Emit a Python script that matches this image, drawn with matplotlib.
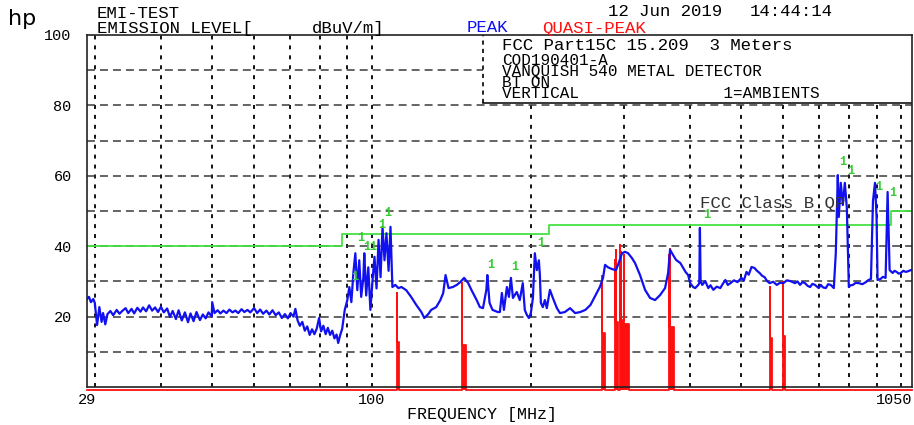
import matplotlib
matplotlib.use("Agg")
import matplotlib.pyplot as plt

W, H = 914, 425
MONO = "Liberation Mono"

# peak detector sweep, MHz / dBuV/m
peak_freq = [
    29.0, 29.25, 29.5, 29.8, 30.0, 30.3, 30.6, 30.9, 31.1, 31.4, 31.7,
    32.1, 32.5, 33.0, 33.4, 33.8, 34.3, 34.7, 35.2, 35.6, 36.1, 36.6, 37.0,
    37.5, 38.0, 38.5, 39.0, 39.5, 40.0, 40.5, 41.1, 41.6, 42.1, 42.7, 43.2,
    43.8, 44.4, 45.0, 45.5, 46.1, 46.7, 47.4, 48.0, 48.6, 49.2, 49.9, 50.0,
    50.5, 51.2, 51.8, 52.5, 53.2, 53.9, 54.6, 55.3, 56.0, 56.8, 57.5, 58.3,
    59.0,
    60.0, 60.8, 61.6, 62.4, 63.3, 64.1, 65.0, 65.9, 66.8, 67.7, 68.6, 69.5,
    70.3, 71.2, 71.8, 72.5, 73.2, 74.0, 74.8, 75.6, 76.4, 77.2, 78.0, 78.8,
    79.6, 80.3, 81.1, 81.9, 82.7, 83.5, 84.3, 85.1, 85.9, 86.5, 87.2, 88.0,
    89.0, 90.0, 90.8, 91.6, 92.4, 93.2, 94.0, 94.8, 95.6, 96.5, 96.9, 97.7,
    98.6, 99.5, 100.4, 101.3, 102.2, 103.1, 104.0, 104.9, 105.8, 106.7, 107.7,
    108.6, 109.5, 110.9, 112.4, 113.9,
    116.3, 118.8, 121.5, 124.2, 125.8, 128.0, 129.6, 132.5, 134.9, 136.6, 138.0,
    139.8, 142.4, 144.9, 147.1, 149.6, 152.3, 154.4, 158.0, 160.2, 162.4, 164.8,
    165.5, 167.1, 169.3, 173.2, 174.8, 176.3, 177.9, 180.2, 181.8, 183.4, 185.0,
    188.1, 190.6, 193.1, 194.8, 196.5, 198.3, 200.0, 201.8, 203.5, 205.3, 207.1,
    208.0, 208.9, 210.7, 212.6, 214.4, 217.3, 220.1, 224.0, 227.0, 232.0, 237.2,
    242.5, 248.0, 253.5, 259.2, 265.0,
    270.2, 273.8, 276.2, 279.8, 284.7, 289.7, 293.5, 297.4, 301.3, 305.3, 310.6,
    314.7, 321.6, 328.7, 335.9, 343.3, 350.9, 358.6, 363.4, 366.5, 371.3, 376.2,
    383.3, 392.0, 396.5, 400.0, 405.2, 408.8, 414.3, 416.2, 417.3, 418.6, 421.6,
    427.1, 432.8, 437.0, 442.4, 449.0, 456.0, 461.0, 466.2, 471.0, 476.6, 484.0,
    491.4, 500.0, 505.0, 511.1, 516.0, 522.4, 529.3, 535.0, 541.0, 547.0, 553.0,
    559.0, 565.2, 574.0, 583.2, 591.0, 600.0, 609.0, 618.6,
    631.2, 638.0, 645.1, 652.0, 659.3, 666.0, 673.8, 681.0, 688.6, 700.0, 706.0,
    713.0, 721.6, 729.0, 737.4, 747.2, 753.7, 760.3, 763.6, 770.3, 777.1, 783.9,
    790.8, 797.7, 804.0, 811.7, 822.0, 833.3, 846.0, 859.1, 869.0, 878.3, 886.0,
    893.8, 900.0, 903.9, 915.8, 925.0, 936.1, 944.3, 952.6, 965.2, 973.0, 982.2,
    991.0, 1000.0, 1011.0, 1022.0, 1033.0, 1044.0, 1050.0,
]
peak_level = [
    25.0, 25.6, 24.1, 25.0, 23.9, 17.6, 22.7, 18.5, 21.0, 17.8, 20.7,
    21.6, 20.4, 21.9, 20.8, 21.6, 22.4, 21.0, 22.2, 20.9, 22.5, 21.4, 22.6,
    21.5, 23.2, 21.7, 22.6, 21.3, 22.8, 21.2, 22.3, 19.9, 21.6, 19.3, 21.8,
    18.9, 21.2, 18.4, 20.9, 18.7, 21.3, 19.0, 20.6, 19.5, 21.2, 20.0, 24.1,
    21.0, 21.8, 20.9, 21.7, 21.0, 22.0, 21.2, 21.7, 21.0, 22.1, 21.3, 21.9,
    21.2,
    22.4, 21.0, 22.0, 20.8, 21.7, 20.6, 21.8, 20.4, 21.2, 19.6, 20.7, 19.5,
    21.0, 20.0, 22.2, 18.9, 17.4, 18.5, 16.0, 17.2, 14.8, 16.4, 15.0, 16.6,
    19.6, 15.8, 17.4, 15.0, 16.8, 14.8, 16.0, 13.8, 14.9, 12.5, 14.6, 16.5,
    21.9, 24.7, 28.4, 24.1, 32.4, 38.0, 27.5, 36.0, 25.6, 31.0, 38.0, 26.0,
    34.0, 21.9, 30.0, 37.0, 28.0, 41.8, 31.2, 45.5, 36.0, 43.7, 33.0,
    45.5, 28.4, 29.0, 28.1, 28.4,
    27.5, 25.6, 23.3, 21.3, 19.6, 20.7, 21.9, 22.7, 24.7, 26.7, 31.8,
    28.1, 28.4, 29.0, 29.8, 31.0, 29.5, 27.6, 24.7, 22.7, 22.4, 27.6,
    31.8, 23.9, 21.9, 21.3, 21.3, 26.7, 21.9, 28.4, 25.6, 31.0, 25.3,
    27.0, 24.7, 29.5, 21.9, 20.5, 19.6, 21.0, 25.3, 38.0, 33.2, 36.0,
    31.8, 23.9, 22.7, 24.7, 22.4, 27.6, 25.3, 22.4, 21.0, 21.3, 22.4,
    21.0, 21.3, 21.9, 23.3, 26.1,
    28.5, 31.0, 34.7, 34.0, 33.5, 33.2, 35.5, 38.0, 38.4, 38.0, 36.6,
    35.2, 31.8, 27.6, 25.3, 24.7, 26.1, 28.1, 32.4, 39.0, 37.5, 36.1,
    35.2, 32.7, 31.8, 29.5, 28.4, 28.1, 29.0, 29.5, 45.2, 30.0, 29.0,
    30.1, 28.1, 28.9, 27.6, 28.5, 28.1, 29.3, 30.4, 29.0, 29.5, 30.3,
    29.8, 31.0, 30.2, 32.7, 31.9, 34.1, 33.8, 33.0, 32.4, 31.6, 31.2,
    30.1, 29.5, 29.9, 29.0, 29.6, 29.5, 30.3, 30.1,
    29.5, 30.0, 29.0, 29.8, 29.5, 28.8, 28.4, 29.3, 29.0, 28.1, 29.0,
    28.3, 28.1, 29.2, 29.0, 28.1, 38.0, 60.2, 48.3, 58.0, 51.7, 58.0,
    50.9, 28.4, 28.9, 29.0, 29.6, 29.5, 29.2, 29.8, 30.4, 30.7, 52.8,
    58.0, 48.3, 30.4, 30.7, 31.3, 31.0, 55.4, 33.2, 32.4, 33.0, 32.7,
    32.2, 32.4, 33.0, 32.7, 32.9, 33.2, 33.2,
]

# quasi-peak readings, traced from the floor (just under 0 dB)
qp_floor = -0.9
qp_freq = [
    29.0, 111.9, 111.9, 111.9, 112.9, 112.9,
    148.4, 148.4, 148.4, 151.0, 151.0,
    272.6, 272.6, 272.6, 276.2, 276.2,
    288.4, 288.4, 288.4, 290.3, 290.3, 290.3, 292.2, 292.2,
    294.8, 294.8, 294.8, 296.1, 296.1, 296.1, 299.9, 299.9, 299.9, 306.6, 306.6,
    364.9, 364.9, 364.9, 366.5, 366.5, 366.5, 373.0, 373.0,
    565.2, 565.2, 565.2, 570.1, 570.1,
    600.0, 600.0, 600.0, 605.2, 605.2, 1050.0,
]
qp_level = [
    qp_floor, qp_floor, 26.7, 12.8, 12.8, qp_floor,
    qp_floor, 29.5, 12.0, 12.0, qp_floor,
    qp_floor, 31.5, 15.3, 15.3, qp_floor,
    qp_floor, 36.0, 18.5, 18.5, 39.0, 18.5, 18.5, qp_floor,
    qp_floor, 40.3, 18.5, 18.5, 38.4, 19.0, 19.0, 37.5, 18.0, 18.0, qp_floor,
    qp_floor, 37.5, 17.0, 17.0, 39.2, 17.0, 17.0, qp_floor,
    qp_floor, 28.4, 13.9, 13.9, qp_floor,
    qp_floor, 29.8, 14.5, 14.5, qp_floor, qp_floor,
]

# FCC 15.209 class B quasi-peak limit
limit_freq = [29, 88, 88, 216, 216, 960, 960, 1050]
limit_level = [40, 40, 43.5, 43.5, 46, 46, 50, 50]

# ambient signal flags ("1")
amb_freq = [107.5, 104.3, 95.2, 99.4, 93.1, 167.6, 186.8, 208.3,
            429.0, 775.5, 803.0, 907.0, 964.0]
amb_level = [49.4, 46.0, 42.3, 39.7, 31.2, 34.7, 34.1, 40.9,
             48.8, 63.9, 61.4, 56.8, 55.1]
amb_flag = ["1", "1", "1", "11", "1", "1", "1", "1",
            "1", "1", "1", "1", "1"]

grid_freq = [30, 40, 50, 60, 70, 80, 90, 100, 200, 300, 400, 500, 600, 700,
             800, 900, 1000]
grid_level = [10, 20, 30, 40, 50, 60, 70, 80, 90]

BLUE = "#1010f0"
RED = "#ff1010"
GREEN = "#44e044"

fig = plt.figure(figsize=(W / 100, H / 100), dpi=100)
ax = fig.add_axes([87 / W, 1 - 387 / H, 825 / W, 352 / H])
ax.set_xscale("log")
ax.set_xlim(29, 1050)
ax.set_ylim(0, 100)

for f in grid_freq:
    ax.axvline(f, color="black", lw=1.3, linestyle=(0, (2.2, 3.3)), zorder=1)
for lv in grid_level:
    ax.axhline(lv, color="#3a3a3a", lw=1.1, linestyle=(0, (5.2, 3.3)), zorder=1)

ax.plot(limit_freq, limit_level, color=GREEN, lw=1.3, zorder=2)
ax.fill_between(qp_freq, qp_level, qp_floor, color=RED, lw=0, zorder=3, clip_on=False)
ax.plot(qp_freq, qp_level, color=RED, lw=1.3, zorder=3, clip_on=False)
ax.plot(peak_freq, peak_level, color=BLUE, lw=1.6, zorder=4)

for f, lv, s in zip(amb_freq, amb_level, amb_flag):
    ax.text(f, lv, s, color="#33cc33", fontsize=8.5, family=MONO,
            fontweight="bold", ha="center", va="center", zorder=5)

ax.text(0.743, 0.522, "FCC Class B QP", transform=ax.transAxes, color="#333333",
        fontsize=12.5, family=MONO, va="center", zorder=5)

# header box for the test record
ax.fill_between([0.48, 1.0], 0.806, 1.0, transform=ax.transAxes, color="white",
                lw=0, zorder=5)
ax.plot([0.48, 0.48], [0.806, 1.0], transform=ax.transAxes, color="black",
        lw=1.2, linestyle=(0, (2.5, 2.5)), zorder=6)
ax.plot([0.48, 1.0], [0.806, 0.806], transform=ax.transAxes, color="black",
        lw=1.1, zorder=6)

for side in ["left", "right", "top", "bottom"]:
    ax.spines[side].set_color("#222222")
    ax.spines[side].set_linewidth(1.2)
    ax.spines[side].set_zorder(7)

ax.set_yticks([20, 40, 60, 80, 100])
ax.set_yticklabels(["20", "40", "60", "80", "100"], family=MONO, fontsize=11)
ax.set_xticks([29, 100, 1050])
ax.set_xticklabels(["29", "100", "1050"], family=MONO, fontsize=11)
ax.xaxis.set_minor_locator(plt.NullLocator())
ax.tick_params(axis="y", length=0, pad=11)
ax.tick_params(axis="x", length=0, pad=4)
ax.get_xticklabels()[-1].set_ha("right")


def ftext(x, y, s, **kw):
    kw.setdefault("family", MONO)
    kw.setdefault("fontsize", 12.5)
    kw.setdefault("va", "center")
    fig.text(x / W, 1 - y / H, s, **kw)


ftext(8, 25, "hp", family="DejaVu Sans", fontsize=16, va="baseline")
ftext(97, 13, "EMI-TEST")
ftext(97, 28, "EMISSION LEVEL[")
ftext(312, 28, "dBuV/m]")
ftext(467, 28, "PEAK", color=BLUE)
ftext(542, 28, "QUASI-PEAK", color=RED)
ftext(608, 12, "12 Jun 2019")
ftext(750, 12, "14:44:14")

ftext(502, 45, "FCC Part15C 15.209  3 Meters")
ftext(502, 77, "COD190401-A\nVANQUISH 540 METAL DETECTOR\nBT ON\n"
      "VERTICAL" + " " * 15 + "1=AMBIENTS",
      fontsize=11.5, linespacing=0.68)

ftext(482, 414, "FREQUENCY [MHz]", ha="center", fontsize=12)

fig.savefig("out.png", dpi=100)
